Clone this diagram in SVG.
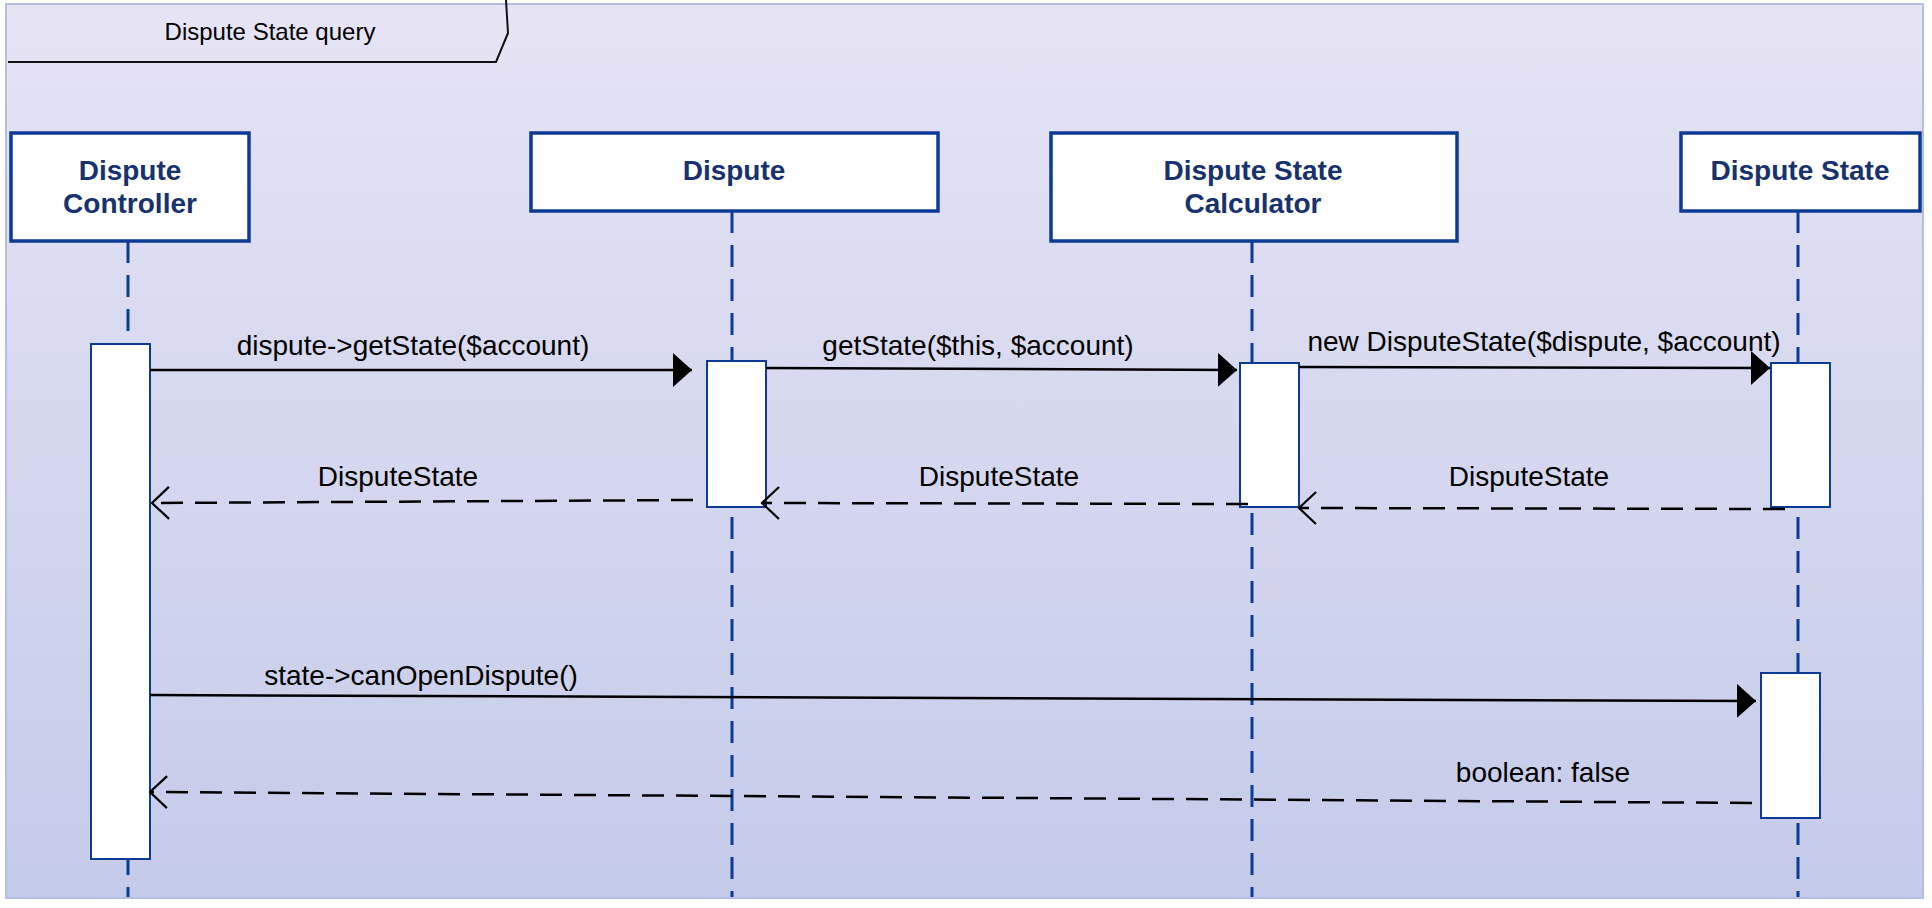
<svg xmlns="http://www.w3.org/2000/svg" width="1932" height="908" viewBox="0 0 1932 908">
<defs>
<linearGradient id="bg" x1="0" y1="0" x2="0" y2="1">
<stop offset="0" stop-color="#e6e4f5"/>
<stop offset="1" stop-color="#c4cbe9"/>
</linearGradient>
<marker id="filled" viewBox="0 0 19 34" refX="19" refY="17" markerWidth="19" markerHeight="34" markerUnits="userSpaceOnUse" orient="auto">
<path d="M0,0 L19,17 L0,34 Z" fill="#000" stroke="none"/>
</marker>
<marker id="open" viewBox="-2 -2 22 36" refX="0" refY="16" markerWidth="22" markerHeight="36" markerUnits="userSpaceOnUse" orient="auto" overflow="visible">
<path d="M-17,0 L0,16 L-17,32" fill="none" stroke="#000" stroke-width="2.2" stroke-dasharray="none"/>
</marker>
</defs>
<style>
.frame{fill:url(#bg);stroke:#b3bde6;stroke-width:2}
.tab{fill:none;stroke:#111;stroke-width:2}
.head{fill:#fff;stroke:#0d3a94;stroke-width:3.5}
.act{fill:#fff;stroke:#0d3a94;stroke-width:2}
.life{stroke:#0d3a94;stroke-width:3;stroke-dasharray:22 12;fill:none}
.hl{font-family:"Liberation Sans",Arial,sans-serif;font-size:28px;font-weight:bold;fill:#17326e;text-anchor:middle}
.ml{font-family:"Liberation Sans",Arial,sans-serif;font-size:28px;fill:#000;text-anchor:middle}
.title{font-family:"Liberation Sans",Arial,sans-serif;font-size:24px;fill:#000;text-anchor:middle}
.call{stroke:#000;stroke-width:2.5;fill:none;marker-end:url(#filled)}
.ret{stroke:#000;stroke-width:2.5;fill:none;stroke-dasharray:22 12;marker-end:url(#open)}
</style>
<g id="frame">
<rect class="frame" x="6" y="4" width="1917" height="894"/>
<path class="tab" d="M8,62 L496,62 L508,33 L506,0"/>
<text class="title" x="270" y="40">Dispute State query</text>
</g>
<g id="lifelines">
<line class="life" x1="128" y1="241" x2="128" y2="897"/>
<line class="life" x1="732" y1="211" x2="732" y2="897"/>
<line class="life" x1="1252" y1="241" x2="1252" y2="897"/>
<line class="life" x1="1798" y1="211" x2="1798" y2="897"/>
</g>
<g id="controller">
<rect class="head" x="11" y="133" width="238" height="108"/>
<text class="hl" x="130" y="180">Dispute</text>
<text class="hl" x="130" y="213">Controller</text>
<rect class="act" x="91" y="344" width="59" height="515"/>
</g>
<g id="dispute">
<rect class="head" x="531" y="133" width="407" height="78"/>
<text class="hl" x="734" y="180">Dispute</text>
<rect class="act" x="707" y="361" width="59" height="146"/>
</g>
<g id="calculator">
<rect class="head" x="1051" y="133" width="406" height="108"/>
<text class="hl" x="1253" y="180">Dispute State</text>
<text class="hl" x="1253" y="213">Calculator</text>
<rect class="act" x="1240" y="363" width="59" height="144"/>
</g>
<g id="disputestate">
<rect class="head" x="1681" y="133" width="239" height="78"/>
<text class="hl" x="1800" y="180">Dispute State</text>
<rect class="act" x="1771" y="363" width="59" height="144"/>
<rect class="act" x="1761" y="673" width="59" height="145"/>
</g>
<g id="connectors">
<path class="call" d="M150,370 L692,370"/>
<text class="ml" x="413" y="355">dispute-&gt;getState($account)</text>
<path class="call" d="M766,368 L1237,370"/>
<text class="ml" x="978" y="355">getState($this, $account)</text>
<path class="call" d="M1299,367 L1770,368"/>
<text class="ml" x="1544" y="351">new DisputeState($dispute, $account)</text>
<path class="ret" d="M693,500 L152,503"/>
<text class="ml" x="398" y="486">DisputeState</text>
<path class="ret" d="M1248,504 L762,503"/>
<text class="ml" x="999" y="486">DisputeState</text>
<path class="ret" d="M1785,509 L1299,508"/>
<text class="ml" x="1529" y="486">DisputeState</text>
<path class="call" d="M150,695 L1756,701"/>
<text class="ml" x="421" y="685">state-&gt;canOpenDispute()</text>
<path class="ret" d="M1752,803 L150,792"/>
<text class="ml" x="1543" y="782">boolean: false</text>
</g>
</svg>
